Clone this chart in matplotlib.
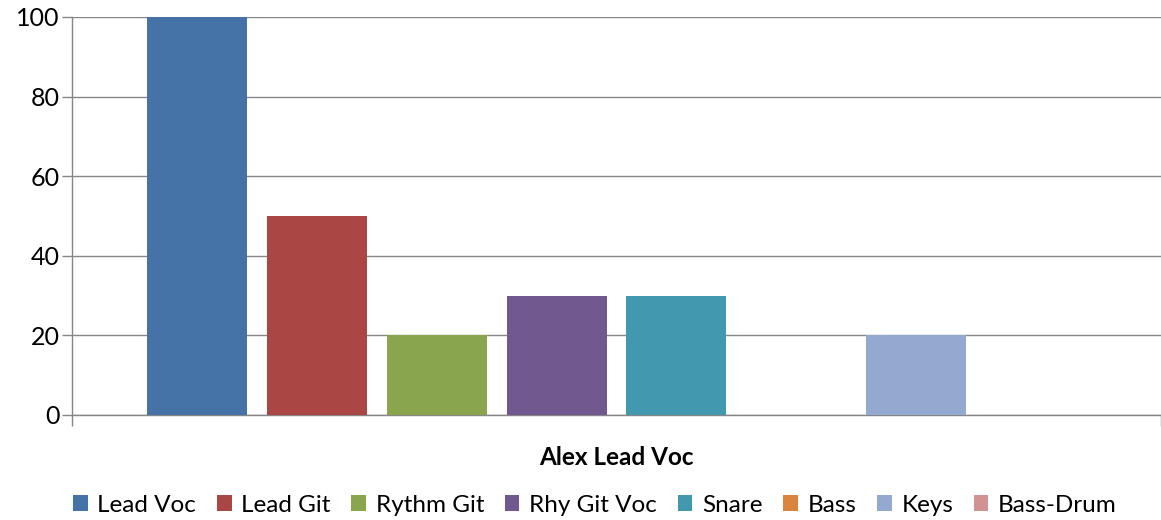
import matplotlib
matplotlib.use("Agg")
import matplotlib.pyplot as plt
from matplotlib.patches import Patch

category = "Alex Lead Voc"
series = ["Lead Voc", "Lead Git", "Rythm Git", "Rhy Git Voc", "Snare", "Bass", "Keys", "Bass-Drum"]
values = [100, 50, 20, 30, 30, 0, 20, 0]
colors = ["#4572A7", "#AA4643", "#89A54E", "#71588F", "#4198AF", "#DB843D", "#93A9CF", "#D19392"]
yticks = [0, 20, 40, 60, 80, 100]

plt.rcParams['font.family'] = ['Lato', 'DejaVu Sans']

W, H = 1161, 520
fig = plt.figure(figsize=(W / 100, H / 100), dpi=100)
ax = fig.add_axes([72 / W, 1 - 415 / H, (1161 - 72) / W, (415 - 17) / H])

grid_c = "#868686"
width = 100 / 120
for i, (s, v, c) in enumerate(zip(series, values, colors)):
    ax.bar(i, v, width=width, color=c, label=s, zorder=3)

xl = -(197 - 72) / 120
ax.set_xlim(xl, 7 - xl)
ax.set_ylim(0, 100)
ax.set_yticks(yticks)
ax.set_yticklabels([str(t) for t in yticks], fontsize=18)
ax.yaxis.grid(True, color=grid_c, linewidth=1.0, zorder=0)
ax.tick_params(axis='y', length=7, color=grid_c, width=1.0, pad=2)

ax.set_xticks([3.5])
ax.set_xticklabels([category], fontsize=17.5, fontweight='bold')
ax.tick_params(axis='x', which='major', length=0, pad=22)
ax.set_xticks([xl, 7 - xl], minor=True)
ax.tick_params(axis='x', which='minor', length=8, color=grid_c, width=1.0, direction='out')

for side in ['top', 'right']:
    ax.spines[side].set_visible(False)
ax.spines['left'].set_color(grid_c)
ax.spines['bottom'].set_color(grid_c)
ax.spines['left'].set_linewidth(1.0)
ax.spines['bottom'].set_linewidth(1.0)

handles = [Patch(facecolor=c, edgecolor='none', label=s) for s, c in zip(series, colors)]
fig.legend(handles=handles, loc='center', bbox_to_anchor=(595 / W, 1 - 505 / H), ncol=8,
           frameon=False, fontsize=17.5, handlelength=0.6, handleheight=0.6,
           handletextpad=0.4, columnspacing=0.85)

fig.savefig("out.png", dpi=100)
